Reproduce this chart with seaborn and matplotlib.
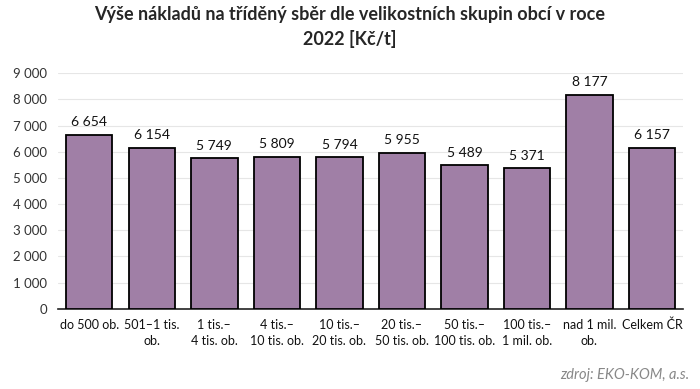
import pandas as pd
import numpy as np
import matplotlib
matplotlib.use('Agg')
import matplotlib.pyplot as plt
import seaborn as sns

# data
categories = ['do 500 ob.', '501\u20131 tis.\nob.', '1 tis.\u2013\n4 tis. ob.', '4 tis.\u2013\n10 tis. ob.',
              '10 tis.\u2013\n20 tis. ob.', '20 tis.\u2013\n50 tis. ob.', '50 tis.\u2013\n100 tis. ob.',
              '100 tis.\u2013\n1 mil. ob.', 'nad 1 mil.\nob.', 'Celkem \u010cR']
values = [6654, 6154, 5749, 5809, 5794, 5955, 5489, 5371, 8177, 6157]
yticks = [0, 1000, 2000, 3000, 4000, 5000, 6000, 7000, 8000, 9000]

df = pd.DataFrame({'skupina': categories, 'naklady': values})

sns.set_style('white')
plt.rcParams['font.family'] = ['Lato', 'DejaVu Sans']

def fmt(v):
    return f'{v:,}'.replace(',', ' ')

fig = plt.figure(figsize=(7, 3.89), dpi=100)
ax = fig.add_axes([0.083, 0.206, 0.893, 0.606])

sns.barplot(data=df, x='skupina', y='naklady', color='#A07FA6', width=0.74,
            edgecolor='black', linewidth=1.3, saturation=1, ax=ax, zorder=3)

ax.set_ylim(0, 9000)
ax.set_yticks(yticks)
ax.set_yticklabels([fmt(t) for t in yticks], fontsize=9.5, color='#333333')
ax.tick_params(axis='x', labelsize=9, colors='#111111', length=0, pad=7)
ax.tick_params(axis='y', length=0, pad=8)
for lab in ax.get_xticklabels():
    lab.set_linespacing(1.45)
ax.grid(axis='y', color='#E6E6E6', linewidth=0.8, zorder=0)
ax.set_xlabel('')
ax.set_ylabel('')
for s in ['top', 'right', 'left']:
    ax.spines[s].set_visible(False)
ax.spines['bottom'].set_color('#222222')
ax.spines['bottom'].set_linewidth(1.2)

for p, v in zip(ax.patches, values):
    ax.text(p.get_x() + p.get_width() / 2, v + 250, fmt(v), ha='center', va='bottom',
            fontsize=10, color='#111111')

fig.suptitle('V\u00fd\u0161e n\u00e1klad\u016f na t\u0159\u00edd\u011bn\u00fd sb\u011br dle velikostn\u00edch skupin obc\u00ed v roce\n2022 [K\u010d/t]',
             fontsize=13, fontweight='bold', y=0.985, linespacing=1.5)
fig.text(0.985, 0.036, 'zdroj: EKO-KOM, a.s.', ha='right', va='center', fontsize=10.5,
         style='italic', color='#888888')

fig.savefig('out.png', dpi=100)
